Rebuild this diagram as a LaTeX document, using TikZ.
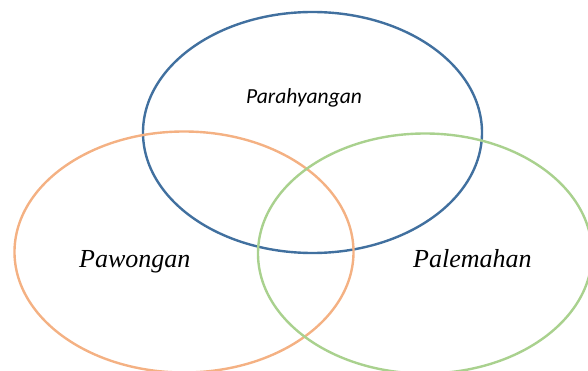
\documentclass[tikz,border=0pt]{standalone}
\usepackage{fontspec}
\setmainfont{Liberation Serif}
\newfontfamily\calib{Carlito}
\definecolor{eblue}{HTML}{41709F}
\definecolor{eorange}{HTML}{F4B183}
\definecolor{egreen}{HTML}{A9D18E}
\begin{document}
\begin{tikzpicture}[x=1pt,y=-1pt,
  ring/.style={line width=2.4pt},
  lbl/.style={anchor=base west,inner sep=0pt,font=\fontsize{26}{30}\selectfont\itshape},
  lblc/.style={anchor=base west,inner sep=0pt,font=\calib\fontsize{21.5}{26}\selectfont\itshape}]
\useasboundingbox (0,0) rectangle (588,371);
\clip (0,0) rectangle (588,371);
\draw[ring,eblue] (312.5,132.5) ellipse [x radius=169.5,y radius=120.5];
\draw[ring,eorange] (184,252) ellipse [x radius=169.5,y radius=120.5];
\draw[ring,egreen] (425,253.5) ellipse [x radius=167,y radius=120];
\node[lblc] (par) at (246,103.5) {Parahyangan};
\node[lbl] (paw) at (79,267) {Pawongan};
\node[lbl] (pal) at (413,267) {Palemahan};
\end{tikzpicture}
\end{document}
